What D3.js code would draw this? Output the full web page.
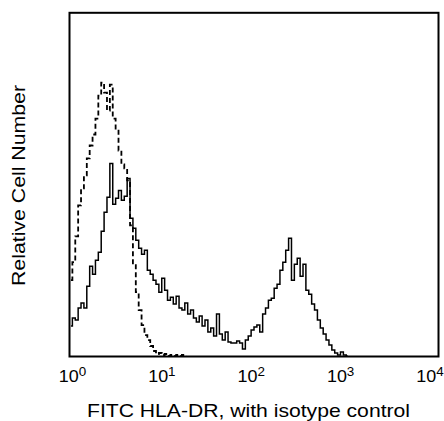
<!DOCTYPE html>
<html>
<head>
<meta charset="utf-8">
<script src="https://cdn.jsdelivr.net/npm/d3@7"></script>
<style>
  body { margin: 0; background: #fff; }
  text { font-family: "Liberation Sans", Arial, sans-serif; fill: #000; }
</style>
</head>
<body>
<script>
// Histogram counts per channel (128 channels over 4 decades)
const channelsPerDecade = 32;

// FITC HLA-DR stained cells (solid)
const stained = [
    30, 38, 36, 48, 53, 48, 70, 90, 82, 96,
    104, 125, 144, 159, 193, 152, 158, 166, 156, 160,
    178, 138, 128, 116, 108, 102, 106, 86, 82, 76,
    72, 64, 78, 66, 56, 59, 52, 60, 48, 46,
    53, 42, 46, 38, 34, 40, 30, 36, 24, 28,
    20, 42, 22, 16, 24, 14, 13, 13, 15, 13,
    7, 16, 20, 26, 29, 31, 24, 42, 48, 56,
    58, 68, 72, 86, 94, 106, 118, 76, 92, 98,
    80, 92, 66, 62, 52, 46, 36, 28, 22, 16,
    11, 6, 3, 1, 4, 1, 0
];

// isotype control (dashed)
const isotype = [
    76, 94, 120, 151, 168, 181, 198, 211, 222, 238,
    261, 274, 264, 246, 272, 238, 226, 206, 192, 188,
    176, 131, 91, 64, 46, 31, 21, 16, 10, 5,
    2, 3, 1, 2, 0, 1, 0, 1, 0, 1, 0
];

const tickValues = [1, 10, 100, 1000, 10000];
const tickExponents = ["0", "1", "2", "3", "4"];

const xTitle = "FITC HLA-DR, with isotype control";
const yTitle = "Relative Cell Number";

const width = 444;
const height = 421;
const plot = {left: 69.5, right: 438.5, top: 12.8, bottom: 356.5};

const svg = d3.select("body").append("svg")
    .attr("width", width)
    .attr("height", height);

const x = d3.scaleLog()
    .domain([1, 10000])
    .range([plot.left, plot.right]);

// labels in the original sit a little inside the frame ends
const xLabel = d3.scaleLog()
    .domain([1, 10000])
    .range([72.5, 430]);

const y = d3.scaleLinear()
    .domain([0, 344])
    .range([356, plot.top]);

const channelValue = (i) => Math.pow(10, (i + 0.5) / channelsPerDecade);

const line = d3.line()
    .x((d, i) => x(channelValue(i)))
    .y((d) => y(d))
    .curve(d3.curveStep);

svg.append("path")
    .datum(isotype)
    .attr("d", line)
    .attr("fill", "none")
    .attr("stroke", "#000")
    .attr("stroke-width", 1.8)
    .attr("stroke-dasharray", "5,3");

svg.append("path")
    .datum(stained)
    .attr("d", line)
    .attr("fill", "none")
    .attr("stroke", "#000")
    .attr("stroke-width", 1.5);

// frame
svg.append("rect")
    .attr("x", plot.left)
    .attr("y", plot.top)
    .attr("width", plot.right - plot.left)
    .attr("height", plot.bottom - plot.top)
    .attr("fill", "none")
    .attr("stroke", "#000")
    .attr("stroke-width", 2);

// x tick labels, 10 with superscript exponent
// (the source lettering is a bit wider than the font, so stretch it)
const labels = svg.append("g")
    .selectAll("text")
    .data(tickValues)
    .join("text")
    .attr("transform", (d) => "translate(" + xLabel(d) + ",382) scale(1.12,1)")
    .attr("text-anchor", "middle")
    .style("font-size", "16px");

labels.append("tspan").text("10");
labels.append("tspan")
    .attr("dy", -6)
    .style("font-size", "12px")
    .text((d, i) => tickExponents[i]);

svg.append("text")
    .attr("x", 87)
    .attr("y", 417)
    .attr("textLength", 323)
    .attr("lengthAdjust", "spacingAndGlyphs")
    .style("font-size", "18.5px")
    .text(xTitle);

svg.append("text")
    .attr("transform", "translate(25,286) rotate(-90)")
    .attr("textLength", 201)
    .attr("lengthAdjust", "spacingAndGlyphs")
    .style("font-size", "18.5px")
    .text(yTitle);
</script>
</body>
</html>
